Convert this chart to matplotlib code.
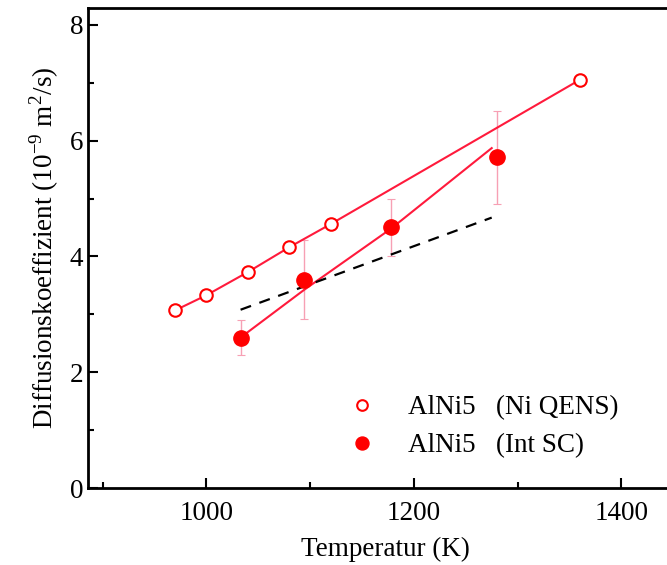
import matplotlib.pyplot as plt
import numpy as np

plt.rcParams['font.family'] = ['Liberation Serif', 'DejaVu Serif']
plt.rcParams['mathtext.fontset'] = 'custom'
plt.rcParams['mathtext.rm'] = 'Liberation Serif'

# Ni QENS (offene Kreise)
t_qens = [970, 1000, 1040, 1080, 1120, 1360]
d_qens = [3.07, 3.33, 3.73, 4.16, 4.56, 7.05]

# Int SC (gefuellte Kreise) mit Fehlern
t_sc = [1033, 1094, 1178, 1280]
d_sc = [2.60, 3.60, 4.50, 5.71]
err_sc = [0.30, 0.68, 0.50, 0.80]

# Fitlinie Int SC
t_fit = [1033, 1094, 1178, 1275]
d_fit = [2.60, 3.42, 4.48, 5.87]

# gestrichelte Linie
t_dash = [1033, 1275]
d_dash = [3.08, 4.67]

fig = plt.figure(figsize=(6.67, 5.65), dpi=100)
ax = fig.add_axes([0.132, 0.136, 0.893, 0.850])

red = '#ff1a3c'
ax.errorbar(t_sc, d_sc, yerr=err_sc, fmt='none', ecolor='#f7a0b4', elinewidth=1.0, capsize=3, capthick=0.8, zorder=2)
ax.plot(t_qens, d_qens, '-', color=red, lw=1.5, zorder=3)
ax.plot(t_fit, d_fit, '-', color=red, lw=1.5, zorder=3)
ax.plot(t_dash, d_dash, '--', color='black', lw=1.6, dashes=(5, 4), zorder=3)
ax.plot(t_qens, d_qens, 'o', ms=9, mfc='white', mec='#ff0000', mew=1.5, ls='none', zorder=4,
        label='AlNi5   (Ni QENS)')
ax.plot(t_sc, d_sc, 'o', ms=11, color='#ff0000', ls='none', zorder=4, label='AlNi5   (Int SC)')

ax.set_xlim(886, 1460)
ax.set_ylim(0, 8.29)
ax.set_xticks([1000, 1200, 1400])
ax.set_xticks([900, 1100, 1300], minor=True)
ax.set_yticks([0, 2, 4, 6, 8])
ax.set_yticks([1, 3, 5, 7], minor=True)
ax.tick_params(which='both', direction='in', labelsize=19.5, width=1.5)
ax.tick_params(which='major', length=7)
ax.tick_params(which='minor', length=4)
ax.tick_params(axis='x', which='major', pad=9)
for s in ax.spines.values():
    s.set_linewidth(2)

ax.set_xlabel('Temperatur (K)', fontsize=19.5, labelpad=8)
ax.set_ylabel('Diffusionskoeffizient (10$^{-9}$ m$^{2}$/s)', fontsize=19.5, labelpad=6)

ax.legend(loc='lower left', bbox_to_anchor=(0.373, 0.012), frameon=False, fontsize=19.5,
          handletextpad=0.7, labelspacing=0.48, markerscale=0.85)

fig.savefig('out.png', dpi=100)
